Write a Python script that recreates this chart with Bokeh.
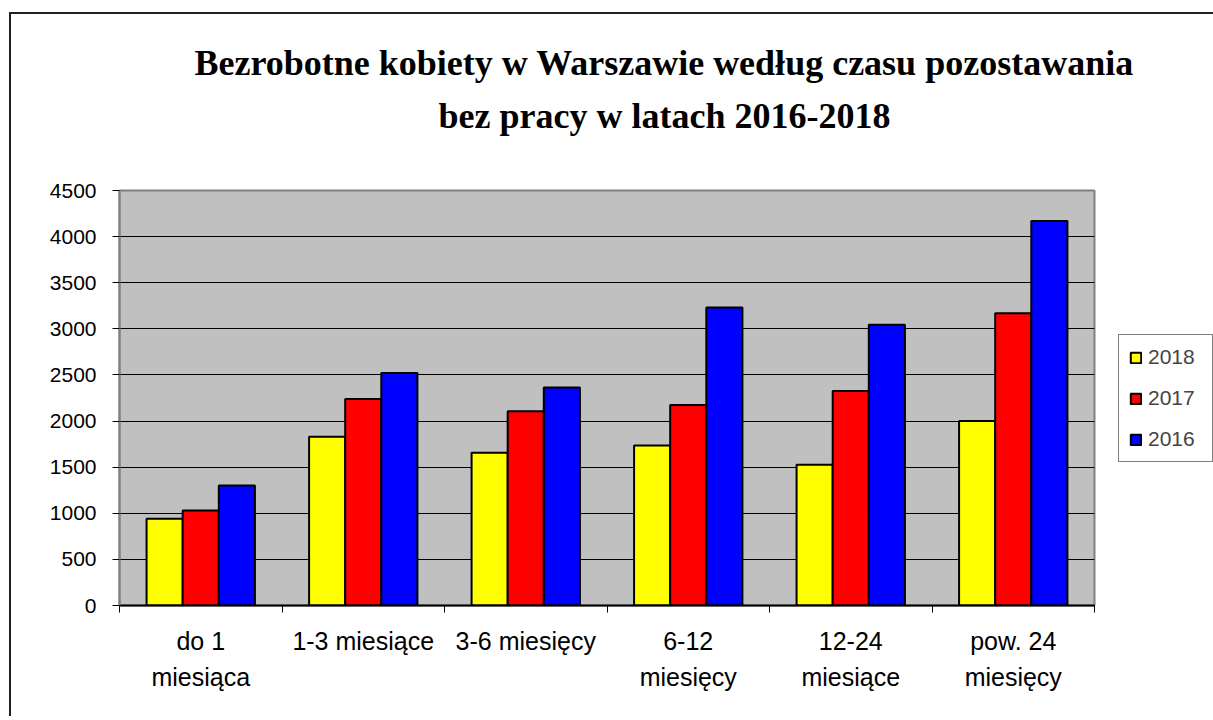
from bokeh.plotting import figure
from bokeh.layouts import row
from bokeh.models import (ColumnDataSource, FactorRange, Range1d, LinearAxis, FixedTicker,
                          Legend, LegendItem, Title)
from bokeh.transform import dodge
from bokeh.embed import file_html
from bokeh.resources import INLINE

categories = ["do 1 miesiąca", "1-3 miesiące", "3-6 miesięcy", "6-12 miesięcy",
              "12-24 miesiące", "pow. 24 miesięcy"]
tick_labels = ["do 1\nmiesiąca", "1-3 miesiące", "3-6 miesięcy", "6-12\nmiesięcy",
               "12-24\nmiesiące", "pow. 24\nmiesięcy"]
years = ["2018", "2017", "2016"]
v2018 = [940, 1830, 1655, 1735, 1525, 2000]
v2017 = [1030, 2240, 2105, 2175, 2325, 3170]
v2016 = [1300, 2520, 2365, 3230, 3045, 4170]
colors = ["#FFFF00", "#FF0000", "#0000FF"]
y_ticks = list(range(0, 4501, 500))
title_line1 = "Bezrobotne kobiety w Warszawie według czasu pozostawania"
title_line2 = "bez pracy w latach 2016-2018"

src = ColumnDataSource(dict(cat=categories, v2018=v2018, v2017=v2017, v2016=v2016))

H = 716
W = 1213
LW = 113
p = figure(width=W, height=H,
           x_range=FactorRange(factors=categories, range_padding=0),
           y_range=Range1d(0, 4500),
           output_backend="svg", toolbar_location=None,
           x_axis_location=None, y_axis_location="left",
           min_border_left=119, min_border_right=119,
           min_border_top=190, min_border_bottom=111,
           background_fill_color="#C0C0C0", border_fill_color=None,
           outline_line_color="#808080", outline_line_width=2)

bw = 1.0 / 4.5
for i, (yr, col) in enumerate(zip(years, colors)):
    p.vbar(x=dodge("cat", (i - 1) * bw, range=p.x_range), top="v" + yr, width=bw,
           source=src, fill_color=col, line_color="black", line_width=2)

# grid
p.xgrid.grid_line_color = None
p.ygrid.ticker = FixedTicker(ticks=y_ticks)
p.ygrid.grid_line_color = "black"
p.ygrid.grid_line_width = 1

# y axis
ya = p.yaxis[0]
ya.ticker = FixedTicker(ticks=y_ticks)
ya.axis_line_color = "#808080"
ya.axis_line_width = 2
ya.major_tick_line_color = "black"
ya.major_tick_out = 7
ya.major_tick_in = 0
ya.minor_tick_line_color = None
ya.major_label_standoff = 16
ya.major_label_text_font = "Liberation Sans"
ya.major_label_text_font_size = "21px"
ya.major_label_text_color = "black"

# x axis (ticks at category boundaries, labels at centres; synthetic coordinates)
centres = [i + 0.5 for i in range(len(categories))]
bounds = [float(i) for i in range(len(categories) + 1)]
xa = LinearAxis(ticker=FixedTicker(ticks=centres, minor_ticks=bounds),
                major_label_overrides={c: t for c, t in zip(centres, tick_labels)})
xa.axis_line_color = "black"
xa.axis_line_width = 2
xa.major_tick_line_color = None
xa.major_tick_out = 7
xa.major_tick_in = 0
xa.minor_tick_line_color = "black"
xa.minor_tick_out = 7
xa.minor_tick_in = 0
xa.major_label_standoff = 14
xa.major_label_text_font = "Liberation Sans"
xa.major_label_text_font_size = "25px"
xa.major_label_text_color = "black"
xa.major_label_text_line_height = 1.32
p.add_layout(xa, "below")

# title: spacer, then line 2 (nearest the plot), then line 1
spacer = Title(text=" ", standoff=52, text_font_size="1px")
t2 = Title(text=title_line2, align="left", offset=319, standoff=0,
           text_font="Liberation Serif", text_font_style="bold",
           text_font_size="36px", text_color="black")
t1 = Title(text=title_line1, align="left", offset=75, standoff=22,
           text_font="Liberation Serif", text_font_style="bold",
           text_font_size="36px", text_color="black")
p.add_layout(spacer, "above")
p.add_layout(t2, "above")
p.add_layout(t1, "above")

# legend in a small transparent figure laid over the right margin
pl = figure(width=LW, height=H,
            x_range=FactorRange(factors=categories), y_range=Range1d(-2, -1),
            output_backend="svg", toolbar_location=None,
            x_axis_location=None, y_axis_location=None,
            min_border=0, min_border_left=0, min_border_right=0,
            min_border_top=0, min_border_bottom=0,
            background_fill_color=None, border_fill_color=None, outline_line_color=None)
pl.xgrid.visible = False
pl.ygrid.visible = False
pl.margin = (0, 0, 0, -LW)
leg_renderers = []
for i, (yr, col) in enumerate(zip(years, colors)):
    r = pl.vbar(x=dodge("cat", (i - 1) * bw, range=pl.x_range), top="v" + yr,
                width=bw, source=src, fill_color=col, line_color="black", line_width=2)
    r.visible = False
    leg_renderers.append(r)
items = [LegendItem(label=yr, renderers=[r]) for yr, r in zip(years, leg_renderers)]
legend = Legend(items=items, location=(18, 143), orientation="vertical",
                border_line_color="black", border_line_width=1,
                background_fill_color="white", background_fill_alpha=1,
                label_text_font="Liberation Sans", label_text_font_size="21px",
                glyph_width=13, glyph_height=13, label_standoff=6, label_width=54,
                spacing=17, padding=10, margin=0, click_policy="none")
pl.add_layout(legend, "center")

layout = row(p, pl, spacing=0)
# chart-area border (left and top edges; the rest lies outside the picture)
layout.styles = {
    "background": ("linear-gradient(#202020, #202020) 9px 12px / 2px 2000px no-repeat, "
                   "linear-gradient(#202020, #202020) 9px 12px / 3000px 2px no-repeat, white"),
}

open("out.html", "w").write(file_html(layout, INLINE))
